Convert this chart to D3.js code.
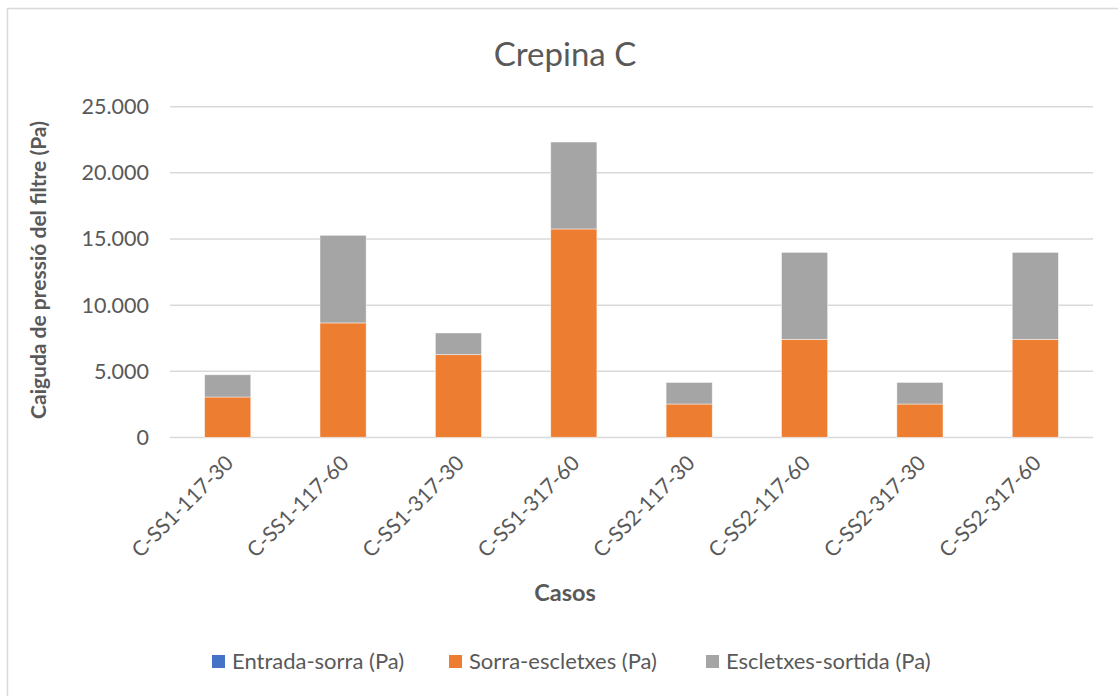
<!DOCTYPE html>
<html>
<head>
<meta charset="utf-8">
<script src="https://cdn.jsdelivr.net/npm/d3@7"></script>
<style>
  html, body { margin: 0; padding: 0; background: #fff; }
  svg { display: block; font-family: Lato, "Open Sans", sans-serif; }
</style>
</head>
<body>
<svg id="chart" width="1118" height="696"></svg>
<script>
// Pressure drop per case (Pa), stacked by filter section
const categories = [
  "C-SS1-117-30", "C-SS1-117-60", "C-SS1-317-30", "C-SS1-317-60",
  "C-SS2-117-30", "C-SS2-117-60", "C-SS2-317-30", "C-SS2-317-60"
];
const entradaSorra    = [10, 20, 10, 20, 10, 20, 10, 20];
const sorraEscletxes  = [3050, 8640, 6250, 15740, 2520, 7400, 2520, 7400];
const escletxesSortida = [1680, 6620, 1640, 6570, 1630, 6570, 1630, 6570];
const seriesNames = ["Entrada-sorra (Pa)", "Sorra-escletxes (Pa)", "Escletxes-sortida (Pa)"];
const seriesColors = ["#4472c4", "#ed7d31", "#a5a5a5"];
const yTicks = [0, 5000, 10000, 15000, 20000, 25000];

const rows = categories.map((c, i) => ({
  cat: c,
  s0: entradaSorra[i],
  s1: sorraEscletxes[i],
  s2: escletxesSortida[i]
}));

const svg = d3.select("#chart");
const textColor = "#595959";

// outer chart frame
svg.append("rect")
  .attr("x", 7.5).attr("y", 8.5)
  .attr("width", 1120).attr("height", 700)
  .attr("fill", "#fff")
  .attr("stroke", "#d9d9d9").attr("stroke-width", 1.5);

const plot = { left: 170, right: 1093, top: 106.7, bottom: 437.5 };

const x = d3.scaleBand()
  .domain(categories)
  .range([plot.left, plot.right])
  .paddingInner(0.6)
  .paddingOuter(0.3);

const y = d3.scaleLinear()
  .domain([0, 25000])
  .range([plot.bottom, plot.top]);

// gridlines
svg.append("g")
  .selectAll("line")
  .data(yTicks)
  .join("line")
  .attr("x1", plot.left).attr("x2", plot.right)
  .attr("y1", d => y(d)).attr("y2", d => y(d))
  .attr("stroke", "#d9d9d9").attr("stroke-width", 1.5);

// y axis tick labels
const fmt = d => d === 0 ? "0" : d3.format(",")(d).replace(/,/g, ".");
const yAxis = d3.axisLeft(y).tickValues(yTicks).tickFormat(fmt).tickSize(0).tickPadding(0);
const yg = svg.append("g")
  .attr("transform", `translate(${149},0)`)
  .call(yAxis);
yg.select(".domain").remove();
yg.selectAll("text")
  .attr("fill", textColor)
  .attr("font-size", 21.5)
  .attr("font-family", "Lato, sans-serif");

// stacked bars
const stack = d3.stack().keys(["s0", "s1", "s2"]);
const stacked = stack(rows);

svg.append("g")
  .selectAll("g")
  .data(stacked)
  .join("g")
  .attr("fill", (d, i) => seriesColors[i])
  .selectAll("rect")
  .data(d => d)
  .join("rect")
  .attr("x", d => x(d.data.cat))
  .attr("y", d => y(d[1]))
  .attr("width", x.bandwidth())
  .attr("height", d => Math.max(0, y(d[0]) - y(d[1])))
  .attr("stroke", "#ffffff")
  .attr("stroke-opacity", 0.6)
  .attr("stroke-width", 0.75);

// x axis category labels, rotated
const xAxis = d3.axisBottom(x).tickSize(0).tickPadding(0);
const xg = svg.append("g")
  .attr("transform", `translate(0,${plot.bottom})`)
  .call(xAxis);
xg.select(".domain").remove();
xg.selectAll("text")
  .attr("fill", textColor)
  .attr("font-size", 21)
  .attr("font-family", "Lato, sans-serif")
  .attr("text-anchor", "end")
  .attr("dy", 0)
  .attr("y", 0)
  .attr("transform", "translate(7,27) rotate(-45)");

// title
svg.append("text")
  .attr("x", 565).attr("y", 66)
  .attr("text-anchor", "middle")
  .attr("fill", textColor)
  .attr("font-size", 33)
  .text("Crepina C");

// y axis title
svg.append("text")
  .attr("transform", "translate(46,270) rotate(-90)")
  .attr("text-anchor", "middle")
  .attr("fill", textColor)
  .attr("font-size", 21)
  .attr("font-weight", "bold")
  .text("Caiguda de pressió del filtre (Pa)");

// x axis title
svg.append("text")
  .attr("x", 565).attr("y", 601)
  .attr("text-anchor", "middle")
  .attr("fill", textColor)
  .attr("font-size", 23.5)
  .attr("font-weight", "bold")
  .text("Casos");

// legend
const legendX = [212, 449, 706];
const legend = svg.append("g")
  .selectAll("g")
  .data(seriesNames)
  .join("g")
  .attr("transform", (d, i) => `translate(${legendX[i]},655)`);
legend.append("rect")
  .attr("width", 13).attr("height", 13)
  .attr("fill", (d, i) => seriesColors[i]);
legend.append("text")
  .attr("x", 20).attr("y", 14)
  .attr("fill", textColor)
  .attr("font-size", 22)
  .text(d => d);
</script>
</body>
</html>
